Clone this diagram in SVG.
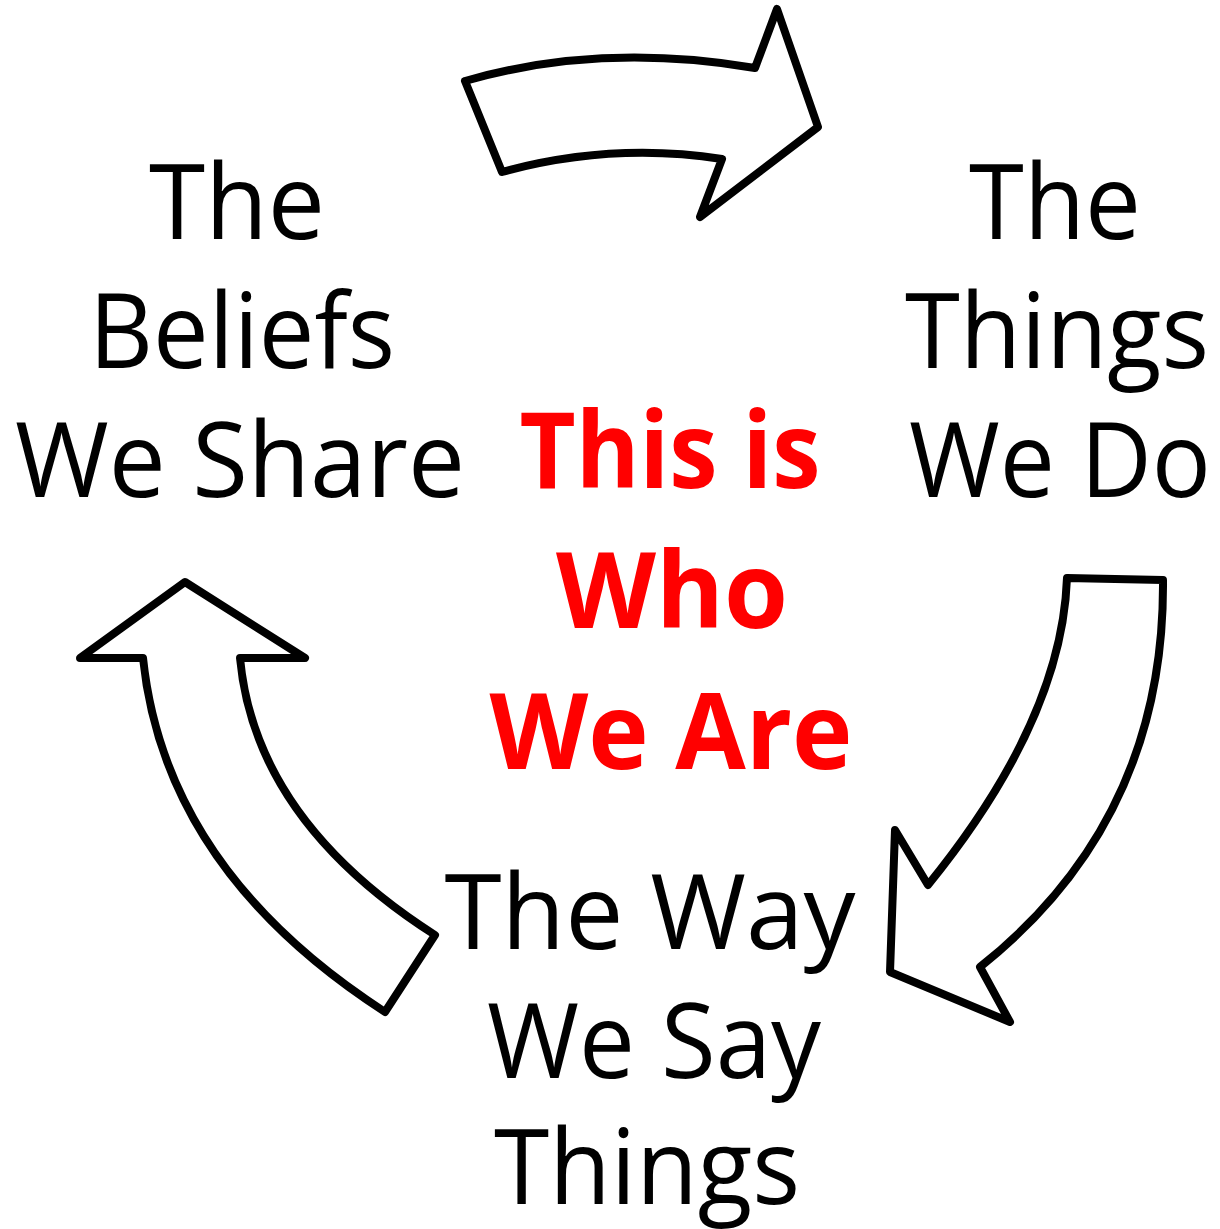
<svg xmlns="http://www.w3.org/2000/svg" width="1220" height="1229" viewBox="0 0 1220 1229">
<style>
.arrow{fill:#fff;stroke:#000;stroke-width:8;stroke-linejoin:round}
.lbl{font-family:"Open Sans","Liberation Sans",sans-serif;font-size:104px;fill:#000;text-anchor:middle}
.ctr{font-family:"Open Sans","Liberation Sans",sans-serif;font-size:105px;font-weight:bold;fill:#ff0000;text-anchor:middle}
</style>
<rect width="1220" height="1229" fill="#fff"/>
<g id="connectors">
<path id="arrow-top" class="arrow" d="M465,81 Q600,42 755,68 L777,9 L818,127 L700,217 L722,159 Q612,142 502,172 Z"/>
<path id="arrow-right" class="arrow" d="M1067,578 L1163,580 Q1165,820 980,967 L1010,1022 L890,972 L895,830 L928,885 Q1062,720 1067,578 Z"/>
<path id="arrow-left" class="arrow" d="M185,582 L305,658 L240,658 Q255,820 435,935 L385,1012 Q165,870 143,658 L80,658 Z"/>
</g>
<g id="node-beliefs">
<text class="lbl" x="237" y="239" textLength="176" lengthAdjust="spacingAndGlyphs">The</text>
<text class="lbl" x="242" y="368" textLength="306" lengthAdjust="spacingAndGlyphs">Beliefs</text>
<text class="lbl" x="240" y="497" textLength="450" lengthAdjust="spacingAndGlyphs">We Share</text>
</g>
<g id="node-things">
<text class="lbl" x="1055" y="239" textLength="172" lengthAdjust="spacingAndGlyphs">The</text>
<text class="lbl" x="1057" y="368" textLength="304" lengthAdjust="spacingAndGlyphs">Things</text>
<text class="lbl" x="1060" y="497" textLength="302" lengthAdjust="spacingAndGlyphs">We Do</text>
</g>
<g id="node-way">
<text class="lbl" x="650" y="949" textLength="411" lengthAdjust="spacingAndGlyphs">The Way</text>
<text class="lbl" x="654" y="1078" textLength="334" lengthAdjust="spacingAndGlyphs">We Say</text>
<text class="lbl" x="647" y="1204" textLength="306" lengthAdjust="spacingAndGlyphs">Things</text>
</g>
<g id="node-center">
<text class="ctr" x="670" y="488" textLength="301" lengthAdjust="spacingAndGlyphs">This is</text>
<text class="ctr" x="672" y="628" textLength="232" lengthAdjust="spacingAndGlyphs">Who</text>
<text class="ctr" x="671" y="769" textLength="363" lengthAdjust="spacingAndGlyphs">We Are</text>
</g>
</svg>
